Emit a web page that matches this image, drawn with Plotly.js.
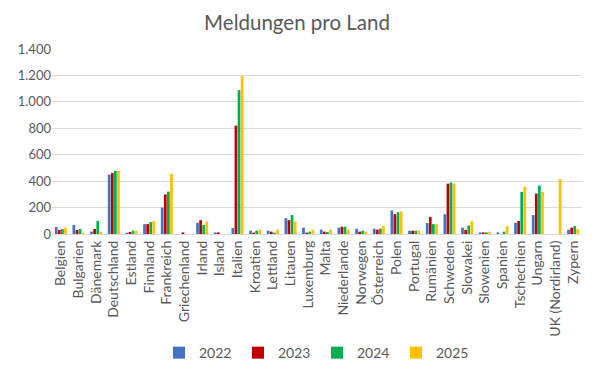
<!DOCTYPE html>
<html><head><meta charset="utf-8">
<script src="https://cdn.plot.ly/plotly-3.0.1.min.js"></script>
<style>html,body{margin:0;padding:0;background:#fff}#c{width:594px;height:378px}</style>
</head><body><div id="c"></div>
<script>
const categories = ["Belgien","Bulgarien","Dänemark","Deutschland","Estland","Finnland","Frankreich","Griechenland","Irland","Island","Italien","Kroatien","Lettland","Litauen","Luxemburg","Malta","Niederlande","Norwegen","Österreich","Polen","Portugal","Rumänien","Schweden","Slowakei","Slowenien","Spanien","Tschechien","Ungarn","UK (Nordirland)","Zypern"];
const v2022 = [53,68,18,449,10,75,200,0,85,12,45,25,25,120,48,33,48,40,40,178,25,83,150,48,12,12,85,143,0,33];
const v2023 = [30,30,38,462,15,75,299,12,105,12,820,10,18,105,10,18,55,18,33,150,25,128,381,30,12,0,98,306,0,48];
const v2024 = [38,38,98,477,25,90,321,0,68,0,1089,25,10,143,18,15,55,25,40,165,25,75,389,65,12,18,319,366,0,60];
const v2025 = [48,10,18,477,25,98,457,0,93,0,1195,33,33,95,33,33,33,18,60,170,25,75,381,98,18,60,359,319,416,38];
const seriesNames = ["2022","2023","2024","2025"];
const colors = ["#4472C4","#C00000","#00B050","#FFC000"];
const vals = [v2022,v2023,v2024,v2025];
const data = vals.map((v,i)=>({type:"bar",name:seriesNames[i],x:categories,y:v,marker:{color:colors[i]},hoverinfo:"x+y"}));
const layout = {
  width:594,height:378,
  margin:{l:52,r:12,t:48.7,b:143.7,autoexpand:false},
  paper_bgcolor:"#fff",plot_bgcolor:"#fff",
  separators:",.",
  font:{family:"Lato, 'Noto Sans', sans-serif",color:"#595959",size:12},
  title:{text:"Meldungen pro Land",x:0.5,xanchor:"center",y:0.94,yanchor:"middle",font:{size:20.5,color:"#595959"}},
  barmode:"group",bargap:0.3,bargroupgap:0.12,
  xaxis:{tickangle:-90,tickfont:{size:14,color:"#595959"},showgrid:false,showline:true,linecolor:"#d9d9d9",ticks:"",automargin:false},
  yaxis:{range:[0,1400],dtick:200,tickformat:",d",gridcolor:"#d9d9d9",showline:false,zeroline:false,tickfont:{size:13,color:"#595959"},ticks:"",automargin:false},
  legend:{orientation:"h",x:0.5,xanchor:"center",yref:"container",y:0.066,yanchor:"middle",font:{size:14,color:"#595959"},entrywidth:34,entrywidthmode:"pixels",traceorder:"normal"},
  showlegend:true
};
Plotly.newPlot("c",data,layout,{displayModeBar:false,staticPlot:true});
</script></body></html>
